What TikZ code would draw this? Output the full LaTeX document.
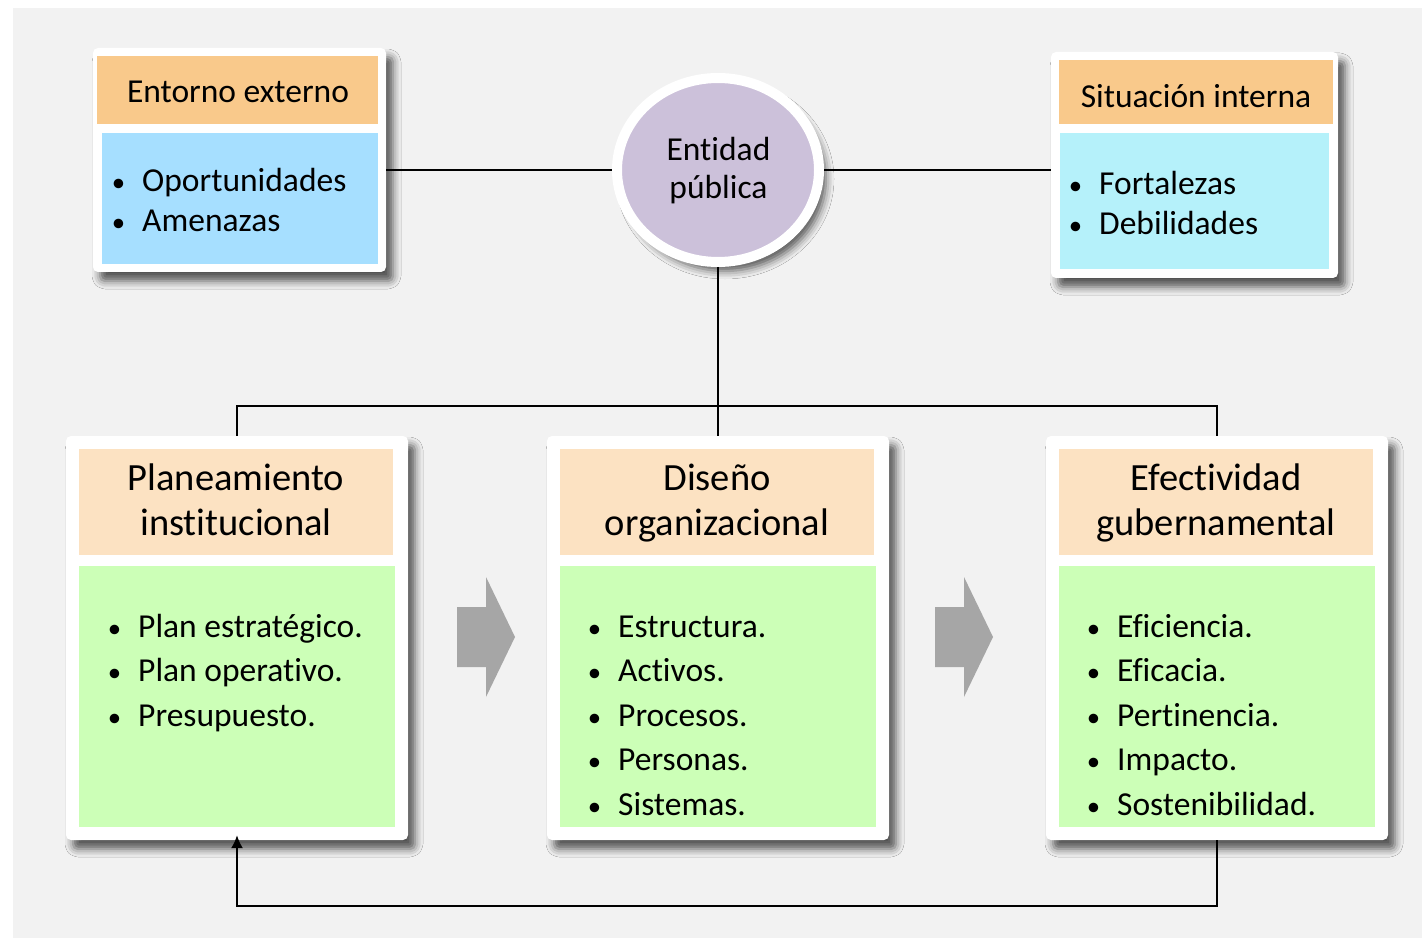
\documentclass[tikz,border=0pt]{standalone}
\usepackage{fontspec}
\setmainfont[Ligatures=CommonOff]{Carlito}
\usetikzlibrary{arrows.meta,shapes.geometric,shadows,shadows.blur}

\definecolor{fondo}{HTML}{F2F2F2}
\definecolor{naranja}{HTML}{F9C98B}
\definecolor{celeste}{HTML}{A6DFFF}
\definecolor{cian}{HTML}{B5F1FA}
\definecolor{durazno}{HTML}{FCE2C2}
\definecolor{verde}{HTML}{CCFFB7}
\definecolor{lila}{HTML}{CCC1DA}
\definecolor{flechagris}{HTML}{A6A6A6}

\newcommand{\vineta}{\llap{\scalebox{0.8}{•}\hspace{17pt}}}

\begin{document}
\begin{tikzpicture}[x=1pt, y=-1pt, >={Latex[length=13pt,width=12pt]}]
	\tikzstyle{sombra} = [blur shadow={shadow xshift=7pt, shadow yshift=-9pt, shadow blur radius=8pt, shadow opacity=65}]
	\tikzstyle{marco} = [fill=white, rounded corners=5pt, inner sep=0pt, sombra]
	\tikzstyle{caja} = [inner sep=0pt]
	\tikzstyle{titulo} = [anchor=base, inner sep=0pt, font=\fontsize{38.5}{46}\selectfont]
	\tikzstyle{texto} = [anchor=base, inner sep=0pt, font=\fontsize{33.5}{40}\selectfont]
	\tikzstyle{item} = [anchor=base west, inner sep=0pt, font=\fontsize{33.5}{40}\selectfont]
	\tikzstyle{linea} = [line width=1.7pt]
	\tikzstyle{flecha} = [fill=flechagris]

	\useasboundingbox (0,0) rectangle (1422,941);
	\fill[white] (0,0) rectangle (1422,941);
	\fill[fondo] (13,8) rectangle (1422,938);

	% entorno externo
	\node[marco, minimum width=293pt, minimum height=224pt] (ext) at (239.5,160) {};
	\node[caja, fill=naranja, minimum width=281pt, minimum height=68pt] (ext-h) at (237.5,90) {};
	\node[caja, fill=celeste, minimum width=276pt, minimum height=131pt] (ext-b) at (240,198.5) {};
	\node[texto] (ext-t) at (238,103) {Entorno externo};
	\node[item] (ext-i0) at (142,192) {\vineta Oportunidades};
	\node[item] (ext-i1) at (142,232) {\vineta Amenazas};

	% situacion interna
	\node[marco, minimum width=287pt, minimum height=226pt] (int) at (1194.5,165) {};
	\node[caja, fill=naranja, minimum width=274pt, minimum height=64pt] (int-h) at (1196,92) {};
	\node[caja, fill=cian, minimum width=269pt, minimum height=136pt] (int-b) at (1194.5,201) {};
	\node[texto] (int-t) at (1196,108) {Situación interna};
	\node[item] (int-i0) at (1099,195) {\vineta Fortalezas};
	\node[item] (int-i1) at (1099,235) {\vineta Debilidades};

	% entidad
	\node[ellipse, fill=lila, draw=white, line width=10pt, minimum width=202pt, minimum height=184pt, inner sep=0pt, sombra] (ent) at (718,170) {};
	\node[texto] (ent-t1) at (718.5,161) {Entidad};
	\node[texto] (ent-t2) at (718.5,199) {pública};

	% cajas de abajo
	\foreach \x/\n/\a/\b in {237/plan/Planeamiento/institucional, 718/dis/Diseño/organizacional, 1217/efe/Efectividad/gubernamental} {
		\node[marco, minimum width=342pt, minimum height=404pt] (\n) at (\x,638) {};
		\node[caja, fill=durazno, minimum width=314pt, minimum height=106pt] (\n-h) at (\x-1,501.5) {};
		\node[caja, fill=verde, minimum width=316pt, minimum height=261pt] (\n-b) at (\x,696.5) {};
		\node[titulo] (\n-t1) at (\x-1,490) {\a};
		\node[titulo] (\n-t2) at (\x-1,535) {\b};
	}

	\foreach \t [count=\i from 0] in {Plan estratégico., Plan operativo., Presupuesto.}
		\node[item] (plan-i\i) at (138,637+44.5*\i) {\vineta\t};
	\foreach \t [count=\i from 0] in {Estructura., Activos., Procesos., Personas., Sistemas.}
		\node[item] (dis-i\i) at (618,637+44.5*\i) {\vineta\t};
	\foreach \t [count=\i from 0] in {Eficiencia., Eficacia., Pertinencia., Impacto., Sostenibilidad.}
		\node[item] (efe-i\i) at (1117,637+44.5*\i) {\vineta\t};

	% flechas grises
	\foreach \x in {457,935}
		\fill[flecha] (\x,607) -- ++(29,0) -- ++(0,-30) -- ++(29,60) -- ++(-29,60) -- ++(0,-30) -- ++(-29,0) -- cycle;

	% conectores
	\draw[linea] (ext.east |- ent.west) -- (ent.west);
	\draw[linea] (ent.east) -- (ent.east -| int.west);
	\draw[linea] (ent.south) -- (dis.north);
	\draw[linea] (plan.north) -- ++(0,-30) -| (efe.north);
	\draw[linea, ->, shorten >=-5pt] (efe.south) -- ++(0,66) -| (plan.south);
\end{tikzpicture}
\end{document}
